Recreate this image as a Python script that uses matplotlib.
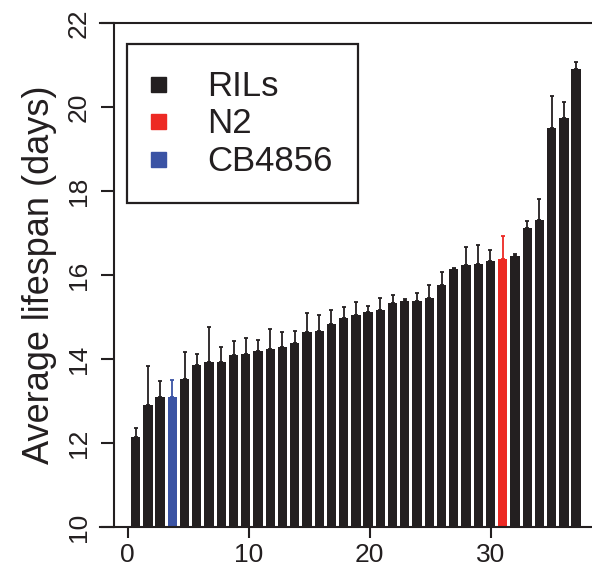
import numpy as np
import matplotlib
matplotlib.use("Agg")
import matplotlib.pyplot as plt
from matplotlib.lines import Line2D

plt.rcParams["font.family"] = ["Liberation Sans", "DejaVu Sans"]

INK = "#231f20"
RED = "#ed2a24"
BLUE = "#3a53a4"

# mean lifespan per strain, sorted, with upper SE
lifespan = [
    12.15, 12.90, 13.09, 13.10, 13.52, 13.86, 13.92, 13.94, 14.10, 14.11,
    14.20, 14.23, 14.29, 14.39, 14.64, 14.67, 14.84, 14.98, 15.05, 15.11,
    15.16, 15.33, 15.37, 15.39, 15.46, 15.77, 16.14, 16.24, 16.27, 16.33,
    16.37, 16.45, 17.13, 17.32, 19.49, 19.73, 20.91,
]
upper_err = [
    0.21, 0.94, 0.39, 0.40, 0.65, 0.26, 0.84, 0.34, 0.33, 0.40,
    0.26, 0.48, 0.36, 0.28, 0.45, 0.37, 0.33, 0.25, 0.31, 0.16,
    0.29, 0.19, 0.07, 0.17, 0.30, 0.29, 0.02, 0.43, 0.44, 0.27,
    0.55, 0.05, 0.16, 0.48, 0.77, 0.39, 0.16,
]
n2_index = 30
cb_index = 3

legend_labels = ["RILs", "N2", "CB4856"]
legend_colors = [INK, RED, BLUE]

colors = [INK] * len(lifespan)
colors[n2_index] = RED
colors[cb_index] = BLUE

fig = plt.figure(figsize=(5.92, 5.66), dpi=100)
W, H = 592, 566
ax = fig.add_axes([113.5 / W, 1 - 527 / H, (W - 113.5) / W, (527 - 23) / H])

x = np.arange(1, len(lifespan) + 1) * 1.011 - 0.35
ax.bar(x, np.array(lifespan) - 10, bottom=10, width=0.77, color=colors,
       linewidth=0, zorder=2)
for xi, yi, ei, c in zip(x, lifespan, upper_err, colors):
    ax.errorbar(xi, yi, yerr=[[0], [ei]], fmt="none", ecolor=c,
                elinewidth=1.3, capsize=1.6, capthick=1.3, zorder=3)

ax.set_xlim(-1.17, 38.37)
ax.set_ylim(10, 22)

for s in ["top", "right", "bottom"]:
    ax.spines[s].set_visible(False)
ax.spines["left"].set_linewidth(1.5)
ax.spines["left"].set_color(INK)

# horizontal rules at the limits, running out past the y axis
x0 = (100 - 113.5) / (W - 113.5)
for yv in (10, 22):
    ax.axhline(yv, xmin=x0, xmax=1, color=INK, lw=1.5, clip_on=False, zorder=4)

ax.set_xticks([0, 10, 20, 30])
ax.set_yticks([10, 12, 14, 16, 18, 20, 22])
ax.tick_params(axis="x", length=8, width=1.5, color=INK, labelsize=19,
               labelcolor=INK, pad=3.5)
ax.tick_params(axis="y", length=9.5, width=1.5, color=INK, labelsize=19,
               labelcolor=INK, pad=7)
for lab in ax.get_yticklabels():
    lab.set_rotation(90)
    lab.set_va("center")

ax.set_ylabel("Average lifespan (days)", fontsize=26, color=INK, labelpad=7)

handles = [Line2D([], [], ls="none", marker="s", markersize=10.8,
                  markerfacecolor=c, markeredgecolor=c) for c in legend_colors]
leg = ax.legend(handles, legend_labels, loc="upper left",
                bbox_to_anchor=((127.3 - 113.5) / (W - 113.5), 1 - (44 - 23) / (527 - 23)),
                borderaxespad=0, fontsize=25, frameon=True, fancybox=False,
                framealpha=1, borderpad=0.74, labelspacing=0.13,
                handlelength=0.31, handletextpad=1.24)
leg.get_frame().set_edgecolor(INK)
leg.get_frame().set_linewidth(1.6)
for t in leg.get_texts():
    t.set_color(INK)

fig.savefig("out.png", dpi=100)
